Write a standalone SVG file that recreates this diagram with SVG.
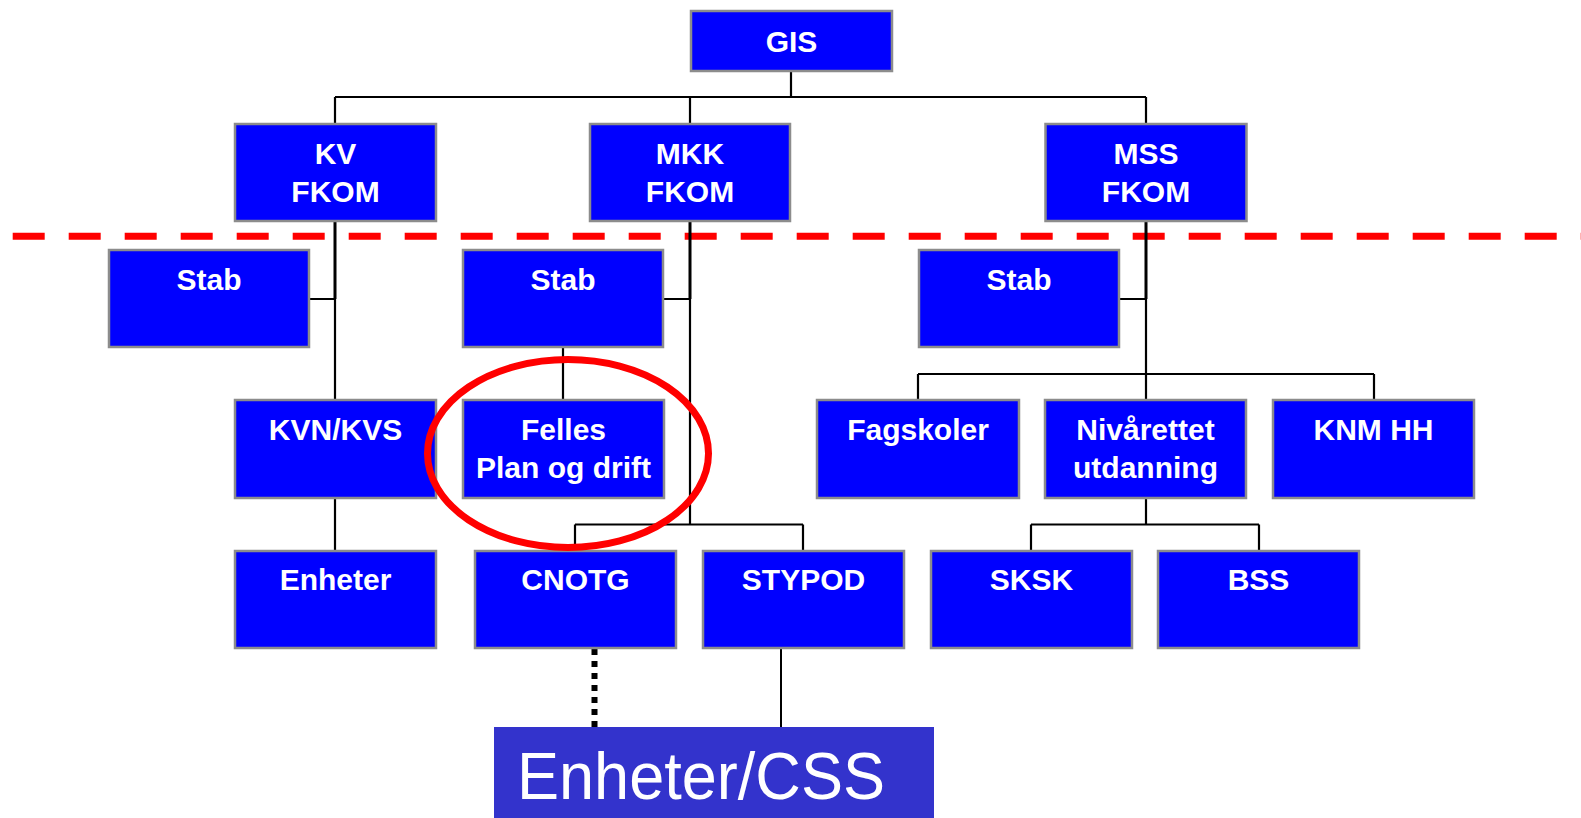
<svg xmlns="http://www.w3.org/2000/svg" width="1581" height="818" viewBox="0 0 1581 818">
<style>
.box{fill:#0000FF;stroke:#8C8C8C;stroke-width:2.5}
.t{font-family:"Liberation Sans",Arial,sans-serif;font-weight:bold;font-size:30px;fill:#FFFFFF;text-anchor:middle}
.c{fill:none;stroke:#000;stroke-width:2.2}
.trunk{stroke-width:3}
</style>
<rect width="1581" height="818" fill="#FFFFFF"/>
<line id="boundary" x1="12.7" y1="236.3" x2="1581" y2="236.3" stroke="#FF0000" stroke-width="7" stroke-dasharray="32 24"/>
<g id="connectors">
<path class="c" d="M791 71V97M335 97H1146M335 97V124M690 97V124M1146 97V124"/>
<path class="c trunk" d="M335 221V299M690 221V299M1146 221V299"/>
<path class="c" d="M335 299V400M309 299H335M335 498V551"/>
<path class="c" d="M690 299V524.5M663 299H690M563 347V400M575 524.5H803M575 524.5V551M803 524.5V551"/>
<path class="c" d="M1146 299V400M1119 299H1146M918 374H1374M918 374V400M1374 374V400M1146 498V524.5M1031 524.5H1259M1031 524.5V551M1259 524.5V551"/>
<line x1="594.5" y1="649" x2="594.5" y2="727" stroke="#000" stroke-width="6" stroke-dasharray="6 6"/>
<line x1="781" y1="649" x2="781" y2="727" stroke="#000" stroke-width="2"/>
</g>
<g id="gis"><rect class="box" x="691" y="11" width="201" height="60"/><text class="t" x="791.5" y="51.5">GIS</text></g>
<g id="kv"><rect class="box" x="235" y="124" width="201" height="97"/><text class="t" x="335.5" y="164">KV</text><text class="t" x="335.5" y="202">FKOM</text></g>
<g id="mkk"><rect class="box" x="590" y="124" width="200" height="97"/><text class="t" x="690" y="164">MKK</text><text class="t" x="690" y="202">FKOM</text></g>
<g id="mss"><rect class="box" x="1045.5" y="124" width="201" height="97"/><text class="t" x="1146" y="164">MSS</text><text class="t" x="1146" y="202">FKOM</text></g>
<g id="stab-kv"><rect class="box" x="109" y="250" width="200" height="97"/><text class="t" x="209" y="290">Stab</text></g>
<g id="stab-mkk"><rect class="box" x="463" y="250" width="200" height="97"/><text class="t" x="563" y="290">Stab</text></g>
<g id="stab-mss"><rect class="box" x="919" y="250" width="200" height="97"/><text class="t" x="1019" y="290">Stab</text></g>
<g id="kvn-kvs"><rect class="box" x="235" y="400" width="201" height="98"/><text class="t" x="335.5" y="439.5">KVN/KVS</text></g>
<g id="felles"><rect class="box" x="463" y="400" width="201" height="98"/><text class="t" x="563.5" y="439.5">Felles</text><text class="t" x="563.5" y="478">Plan og drift</text></g>
<g id="fagskoler"><rect class="box" x="817" y="400" width="202" height="98"/><text class="t" x="918" y="439.5">Fagskoler</text></g>
<g id="nivarettet"><rect class="box" x="1045" y="400" width="201" height="98"/><text class="t" x="1145.5" y="439.5">Nivårettet</text><text class="t" x="1145.5" y="478">utdanning</text></g>
<g id="knm-hh"><rect class="box" x="1273" y="400" width="201" height="98"/><text class="t" x="1373.5" y="439.5">KNM HH</text></g>
<g id="enheter"><rect class="box" x="235" y="551" width="201" height="97"/><text class="t" x="335.5" y="590">Enheter</text></g>
<g id="cnotg"><rect class="box" x="475" y="551" width="201" height="97"/><text class="t" x="575.5" y="590">CNOTG</text></g>
<g id="stypod"><rect class="box" x="703" y="551" width="201" height="97"/><text class="t" x="803.5" y="590">STYPOD</text></g>
<g id="sksk"><rect class="box" x="931" y="551" width="201" height="97"/><text class="t" x="1031.5" y="590">SKSK</text></g>
<g id="bss"><rect class="box" x="1158" y="551" width="201" height="97"/><text class="t" x="1258.5" y="590">BSS</text></g>
<g id="enheter-css"><rect x="494" y="727" width="440" height="95" fill="#3333CC"/><text x="517" y="799" font-family="'Liberation Sans',Arial,sans-serif" font-size="66" fill="#FFFFFF" textLength="368" lengthAdjust="spacingAndGlyphs">Enheter/CSS</text></g>
<ellipse id="highlight" cx="568" cy="453.5" rx="140.5" ry="94" fill="none" stroke="#FF0000" stroke-width="7"/>
</svg>
